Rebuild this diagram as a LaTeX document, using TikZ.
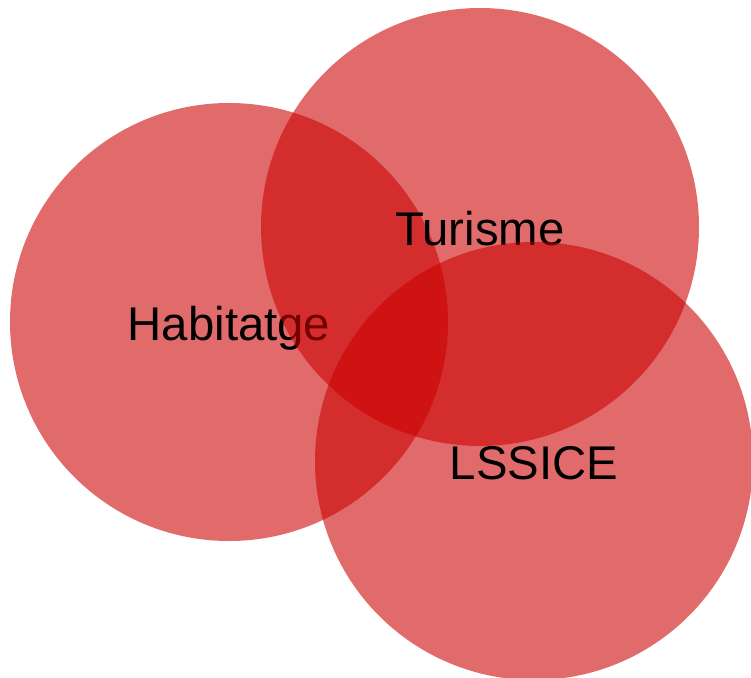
\documentclass[tikz,border=0pt]{standalone}
\usepackage{fontspec}
\setmainfont{Liberation Sans}
\usepackage{tikz}
\usetikzlibrary{calc,backgrounds}
\definecolor{setred}{RGB}{203,0,0}

\begin{document}
\begin{tikzpicture}[x=1bp,y=-1bp,
  setcircle/.style={circle,fill=setred,fill opacity=0.58,text opacity=1,
    minimum size=438bp,inner sep=0pt,text=black,
    text height=37bp,text depth=0bp,
    font=\fontsize{47.5}{56}\selectfont}]
\useasboundingbox (0,0) rectangle (751,678);
\node[setcircle] (habitatge) at (229,322) {Habitatge};
\node[setcircle] (turisme) at (480,227) {Turisme};
\node[setcircle] (lssice) at (534,461) {LSSICE};
\end{tikzpicture}
\end{document}
